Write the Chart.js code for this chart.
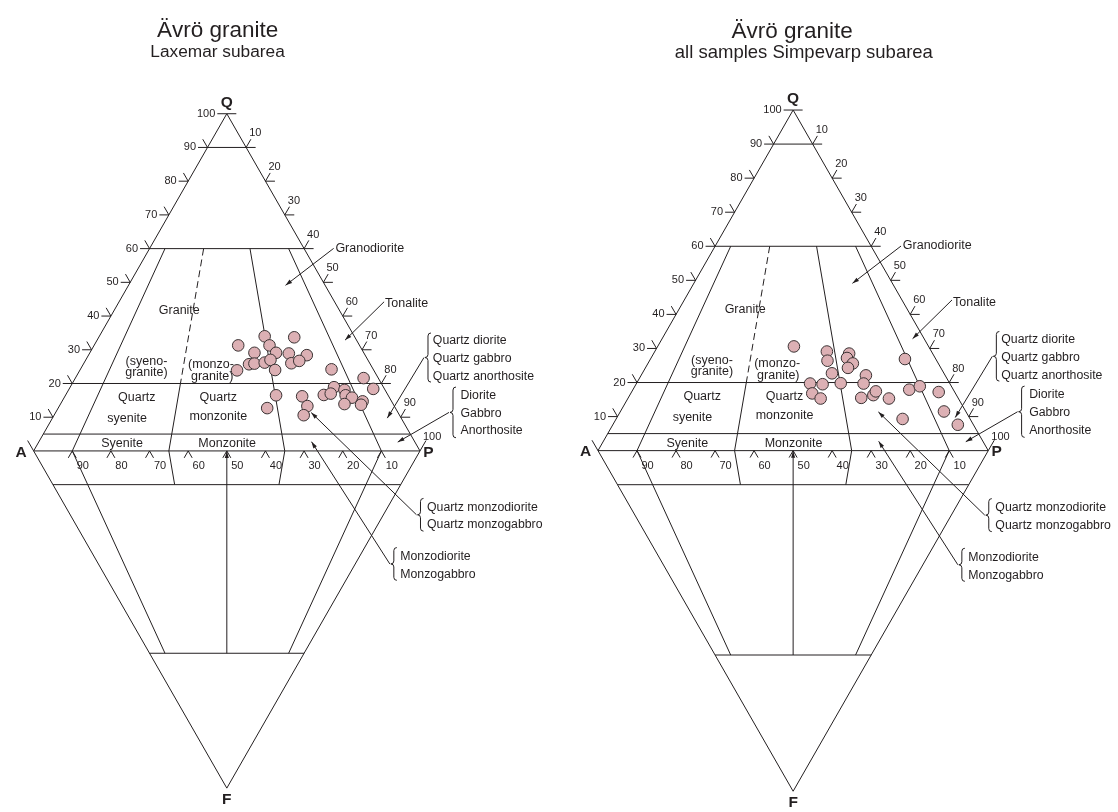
<!DOCTYPE html>
<html>
<head>
<meta charset="utf-8">
<script src="https://cdn.jsdelivr.net/npm/chart.js@4/dist/chart.umd.min.js"></script>
<style>
  html, body { margin: 0; padding: 0; background: #fff; }
  #wrap { position: relative; width: 1118px; height: 812px; overflow: hidden; }
  #wrap canvas { position: absolute; top: 0; }
</style>
</head>
<body>
<div id="wrap">
  <canvas id="laxemar" width="559" height="812" style="left:0"></canvas>
  <canvas id="simpevarp" width="559" height="812" style="left:559px"></canvas>
</div>
<script>
// ---- Modal compositions, Q-A-P normalised to 100 ----
// Laxemar subarea
const laxQ = [34.0, 33.7, 31.3, 31.3, 29.1, 29.1, 28.9, 28.4, 25.7, 25.9, 26.2, 27.0, 26.0, 26.7, 23.9, 24.0, 24.2,
              21.6, 18.4, 18.9, 16.6, 17.0, 18.1, 16.5, 15.8, 14.7, 13.9, 13.7, 16.5, 16.2, 13.3, 10.6, 12.7];
const laxA = [23.2, 15.7, 31.4, 23.3, 28.3, 22.7, 19.5, 15.1, 31.4, 29.9, 27.1, 25.2, 20.3, 17.9, 35.4, 25.5, 10.8,
              3.8, 2.9, 12.8, 16.6, 14.6, 10.5, 11.0, 9.7, 7.5, 12.6, 8.4, 29.0, 22.4, 22.5, 24.8, 33.2];
const laxP = [42.8, 50.6, 37.3, 45.4, 42.6, 48.2, 51.6, 56.5, 42.9, 44.2, 46.7, 47.8, 53.7, 55.4, 40.7, 50.5, 65.0,
              74.6, 78.7, 68.3, 66.8, 68.4, 71.4, 72.5, 74.5, 77.8, 73.5, 77.9, 54.5, 61.4, 64.2, 64.6, 54.1];
// Simpevarp subarea, all samples
const simQ = [30.6, 29.1, 26.4, 28.5, 27.2, 25.6, 24.3, 22.7, 22.1, 19.7, 19.5, 19.8, 19.7, 16.8, 15.3, 15.5, 16.3,
              17.4, 15.3, 26.9, 17.9, 18.9, 17.2, 9.3, 11.5, 7.6];
const simA = [34.5, 26.8, 28.0, 21.4, 22.6, 21.9, 23.8, 28.7, 20.3, 35.8, 32.7, 27.9, 22.1, 36.7, 35.3, 24.8, 21.3,
              20.1, 17.8, 7.9, 11.3, 8.1, 4.1, 17.3, 5.6, 4.0];
const simP = [34.9, 44.1, 45.6, 50.1, 50.2, 52.5, 51.9, 48.6, 57.6, 44.5, 47.8, 52.3, 58.2, 46.5, 49.4, 59.7, 62.4,
              62.5, 66.9, 65.2, 70.8, 73.0, 78.7, 73.4, 82.9, 88.4];

// ---- Axis tick labels ----
const qTicks = [10, 20, 30, 40, 50, 60, 70, 80, 90, 100];   // Q, along A–Q side
const pTicks = [10, 20, 30, 40, 50, 60, 70, 80, 90, 100];   // P, along Q–P side
const aTicks = [90, 80, 70, 60, 50, 40, 30, 20, 10];        // A, along A–P side

// ---- QAPF field boundaries (P/(A+P) ratios and Q / F levels) ----
const qLevels = [90, 60, 20, 5];
const fLevels = [10, 60];

const INK = '#231f20';
const FONT = '"Liberation Sans", Arial, Helvetica, sans-serif';
const SQ = Math.sqrt(3) / 2;

// Cartesian diagram units: A–P base spans 0..100, Q up, F down.
const upper = (q, r) => { const p = (100 - q) * r; return { x: p + q / 2, y: q * SQ }; };
const lower = (f, r) => { const p = (100 - f) * r; return { x: p + f / 2, y: -f * SQ }; };

function framework() {
  const solid = [], dashed = [];
  solid.push([upper(0, 0), upper(100, 0)], [upper(100, 0), upper(0, 1)], [upper(0, 0), upper(0, 1)]);
  qLevels.forEach(q => solid.push([upper(q, 0), upper(q, 1)]));
  [0.1, 0.65, 0.9].forEach(r => solid.push([upper(60, r), upper(0, r)]));
  dashed.push([upper(60, 0.35), upper(20, 0.35)]);
  solid.push([upper(20, 0.35), upper(0, 0.35)]);
  solid.push([lower(0, 0), lower(100, 0)], [lower(0, 1), lower(100, 1)]);
  fLevels.forEach(f => solid.push([lower(f, 0), lower(f, 1)]));
  [0.35, 0.65].forEach(r => solid.push([lower(0, r), lower(10, r)]));
  [0.1, 0.9].forEach(r => solid.push([lower(0, r), lower(60, r)]));
  solid.push([lower(60, 0.5), lower(0, 0.5)]);
  return { solid, dashed };
}

// Field names and pointer labels, in diagram units
const fieldLabels = [
  { t: 'Granite', u: 37.7, v: 36.0 },
  { t: '(syeno-', u: 29.2, v: 23.0 }, { t: 'granite)', u: 29.2, v: 20.05 },
  { t: '(monzo-', u: 45.9, v: 22.07 }, { t: 'granite)', u: 46.2, v: 19.12 },
  { t: 'Quartz', u: 26.7, v: 13.64 }, { t: 'syenite', u: 24.2, v: 8.43 },
  { t: 'Quartz', u: 47.8, v: 13.64 }, { t: 'monzonite', u: 47.8, v: 8.84 },
  { t: 'Syenite', u: 22.9, v: 1.87 }, { t: 'Monzonite', u: 50.1, v: 1.87 }
];
const pointers = [
  { t: ['Granodiorite'], u: 78.1, v: 52.02, tail: [77.65, 52.02], head: [65.2, 42.53] },
  { t: ['Tonalite'], u: 90.96, v: 37.73, tail: [90.71, 38.31], head: [80.61, 28.46] }
];
const braces = [
  { t: ['Quartz diorite', 'Quartz gabbro', 'Quartz anorthosite'], bu: 102.07, v0: 30.3, v1: 17.68,
    tu: 103.33, rows: [28.21, 23.59, 19.19], head: [91.54, 8.43] },
  { t: ['Diorite', 'Gabbro', 'Anorthosite'], bu: 108.54, v0: 16.41, v1: 3.38,
    tu: 110.48, rows: [14.14, 9.6, 5.15], head: [94.24, 2.27] },
  { t: ['Quartz monzodiorite', 'Quartz monzogabbro'], bu: 100.13, v0: -12.2, v1: -20.6,
    tu: 101.82, rows: [-14.55, -19.02], head: [71.84, 9.85] },
  { t: ['Monzodiorite', 'Monzogabbro'], bu: 93.23, v0: -24.82, v1: -33.23,
    tu: 94.9, rows: [-27.17, -31.82], head: [71.92, 2.37] }
];

function annotations(panel) {
  return {
    id: 'qapfAnnotations',
    beforeDatasetsDraw(chart) {
      const ctx = chart.ctx;
      const sx = chart.scales.x, sy = chart.scales.y;
      const P = c => [sx.getPixelForValue(c.x), sy.getPixelForValue(c.y)];
      const U = (u, v) => [sx.getPixelForValue(u), sy.getPixelForValue(v)];
      ctx.save();
      ctx.strokeStyle = INK; ctx.fillStyle = INK; ctx.lineWidth = 1;
      const seg = (x0, y0, x1, y1) => { ctx.beginPath(); ctx.moveTo(x0, y0); ctx.lineTo(x1, y1); ctx.stroke(); };
      const txt = (s, x, y, size, align, weight) => {
        ctx.font = (weight || '') + ' ' + size + 'px ' + FONT;
        ctx.textAlign = align || 'center'; ctx.textBaseline = 'middle';
        ctx.fillText(s, x, y);
      };
      const arrowHead = (x0, y0, x1, y1) => {
        const a = Math.atan2(y1 - y0, x1 - x0), len = 7, w = 0.3;
        ctx.beginPath();
        ctx.moveTo(x1, y1);
        ctx.lineTo(x1 - len * Math.cos(a - w), y1 - len * Math.sin(a - w));
        ctx.lineTo(x1 - len * Math.cos(a + w), y1 - len * Math.sin(a + w));
        ctx.closePath(); ctx.fill();
      };
      const arrow = (x0, y0, x1, y1) => { seg(x0, y0, x1, y1); arrowHead(x0, y0, x1, y1); };

      // titles
      const [tx] = U(panel.titleU, 0), [stx] = U(panel.subU, 0);
      ctx.textAlign = 'center'; ctx.textBaseline = 'alphabetic';
      ctx.font = '22.5px ' + FONT; ctx.fillText('Ävrö granite', tx, panel.titleY);
      ctx.font = panel.subSize + 'px ' + FONT; ctx.fillText(panel.subtitle, stx, panel.subY);

      const L = 9.5;
      // Q ticks on A–Q side
      qTicks.forEach(q => {
        const [x, y] = P(upper(q, 0));
        seg(x, y, x - L, y);
        if (q === 100) seg(x, y, x + L, y);
        else seg(x, y, x - 0.5 * L, y - SQ * L);
        txt(String(q), x - 11.5, y, 11, 'right');
      });
      // P ticks on Q–P side
      pTicks.forEach(p => {
        const [x, y] = P(upper(100 - p, 1));
        if (p < 100) seg(x, y, x + L, y);
        const d = p === 100 ? 12 : L;
        seg(x, y, x + 0.5 * d, y - SQ * d);
        txt(String(p), x + 3, y - 14, 11, 'left');
      });
      // extension of A–F side above A
      { const [x, y] = P(upper(0, 0)); seg(x, y, x - 0.5 * 12, y - SQ * 12); }
      // A ticks on A–P side
      aTicks.forEach(a => {
        const [x, y] = P(upper(0, 1 - a / 100));
        const t = 8;
        seg(x, y, x - 0.5 * t, y + SQ * t);
        seg(x, y, x + 0.5 * t, y + SQ * t);
        txt(String(a), x + 10.5, y + 15.5, 11, 'center');
      });
      // arrow on the 50 % line towards the A–P side
      { const [x0, y0] = P(lower(60, 0.5)), [x1, y1] = P(lower(0, 0.5)); arrowHead(x0, y0, x1, y1 + 0.5); }

      // apex letters
      { const [x, y] = P(upper(100, 0)); txt('Q', x, y - 11.5, 15.5, 'center', 'bold'); }
      { const [x, y] = P(upper(0, 0)); txt('A', x - 12.5, y + 1.5, 15.5, 'center', 'bold'); }
      { const [x, y] = P(upper(0, 1)); txt('P', x + 8.5, y + 1.5, 15.5, 'center', 'bold'); }
      { const [x, y] = P(lower(100, 0)); txt('F', x, y + 11.5, 15.5, 'center', 'bold'); }

      // field names
      fieldLabels.forEach(l => { const [x, y] = U(l.u, l.v); txt(l.t, x, y, 12.5, 'center'); });
      // pointer labels
      pointers.forEach(l => {
        const [x, y] = U(l.u, l.v); txt(l.t[0], x, y, 12.5, 'left');
        const [x0, y0] = U(l.tail[0], l.tail[1]), [x1, y1] = U(l.head[0], l.head[1]);
        arrow(x0, y0, x1, y1);
      });
      // braced groups
      braces.forEach(b => {
        const [bx, yTop] = U(b.bu, b.v0), [, yBot] = U(b.bu, b.v1);
        const ym = (yTop + yBot) / 2, w = 3;
        ctx.beginPath();
        ctx.moveTo(bx + w, yTop);
        ctx.quadraticCurveTo(bx, yTop, bx, yTop + w);
        ctx.lineTo(bx, ym - w);
        ctx.quadraticCurveTo(bx, ym, bx - w, ym);
        ctx.quadraticCurveTo(bx, ym, bx, ym + w);
        ctx.lineTo(bx, yBot - w);
        ctx.quadraticCurveTo(bx, yBot, bx + w, yBot);
        ctx.stroke();
        b.t.forEach((s, i) => { const [x, y] = U(b.tu, b.rows[i]); txt(s, x, y, 12.3, 'left'); });
        const [hx, hy] = U(b.head[0], b.head[1]);
        arrow(bx - w - 1, ym, hx, hy);
      });
      ctx.restore();
    }
  };
}

const panels = [
  { id: 'laxemar', subtitle: 'Laxemar subarea', q: laxQ, a: laxA, p: laxP,
    ax: 27.5, base: 451.7, scale: 3.96, titleU: 47.6, titleY: 37, subU: 47.6, subY: 57, subSize: 17.3 },
  { id: 'simpevarp', subtitle: 'all samples Simpevarp subarea', q: simQ, a: simA, p: simP,
    ax: 33, base: 451.4, scale: 4.0, titleU: 49.75, titleY: 38, subU: 52.75, subY: 58, subSize: 18.5 }
];

panels.forEach(panel => {
  const canvas = document.getElementById(panel.id);
  const W = canvas.width, H = canvas.height;
  const xMin = -panel.ax / panel.scale, xMax = xMin + W / panel.scale;
  const yMax = panel.base / panel.scale, yMin = yMax - H / panel.scale;

  const { solid, dashed } = framework();
  const lineSet = (seg, dash) => ({
    data: seg, showLine: true, borderColor: INK, borderWidth: 1, borderDash: dash,
    pointRadius: 0, pointHoverRadius: 0, fill: false, order: 2, clip: false
  });
  const samples = panel.q.map((q, i) => {
    const s = q + panel.a[i] + panel.p[i];
    const qn = q * 100 / s, pn = panel.p[i] * 100 / s;
    return { x: pn + qn / 2, y: qn * SQ };
  });

  new Chart(canvas, {
    type: 'scatter',
    data: {
      datasets: [
        { data: samples, pointRadius: 5.8, pointHoverRadius: 5.8, backgroundColor: '#dcb0b4',
          borderColor: '#3a3233', borderWidth: 1, order: 0, clip: false },
        ...solid.map(s => lineSet(s, [])),
        ...dashed.map(s => lineSet(s, [7, 4]))
      ]
    },
    options: {
      responsive: false, animation: false, devicePixelRatio: 1, events: [],
      layout: { padding: 0 },
      plugins: { legend: { display: false }, tooltip: { enabled: false }, title: { display: false } },
      scales: {
        x: { type: 'linear', display: false, min: xMin, max: xMax },
        y: { type: 'linear', display: false, min: yMin, max: yMax }
      }
    },
    plugins: [annotations(panel)]
  });
});
</script>
</body>
</html>
